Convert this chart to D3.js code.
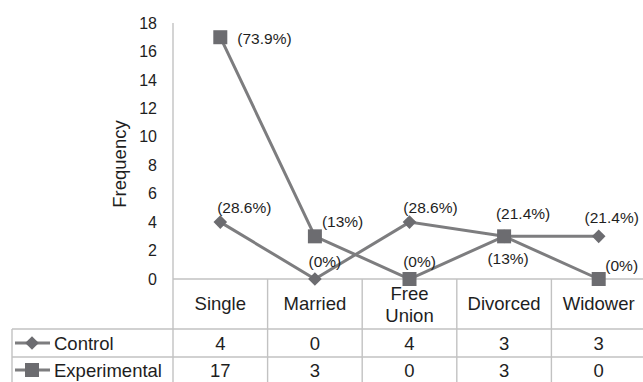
<!DOCTYPE html>
<html>
<head>
<meta charset="utf-8">
<script src="https://cdn.jsdelivr.net/npm/d3@7"></script>
<style>
  html, body { margin: 0; padding: 0; background: #fff; }
  svg { display: block; font-family: "Liberation Sans", Arial, Helvetica, sans-serif; }
</style>
</head>
<body>
<svg id="chart" width="643" height="382"></svg>
<script>
// Marital status by group
const categories = ["Single", "Married", "Free Union", "Divorced", "Widower"];
const controlValues = [4, 0, 4, 3, 3];
const experimentalValues = [17, 3, 0, 3, 0];
const controlPct = ["(28.6%)", "(0%)", "(28.6%)", "(21.4%)", "(21.4%)"];
const experimentalPct = ["(73.9%)", "(13%)", "(0%)", "(13%)", "(0%)"];
const yTicks = [0, 2, 4, 6, 8, 10, 12, 14, 16, 18];
const seriesNames = ["Control", "Experimental"];

(function draw() {
  const svg = d3.select("#chart");
  const gridColor = "#c2c2c2";
  const lineColor = "#7d7d7f";
  const markColor = "#6c6c70";
  const textColor = "#1e1e1e";

  const plotLeft = 173, plotRight = 646, plotTop = 23, base = 279;
  const headerBottom = 329, row1Bottom = 357, tableBottom = 382, legendLeft = 12;
  const tableFont = 18.5, pctFont = 15.5, tickFont = 16;

  const x = d3.scaleBand().domain(categories).range([plotLeft, plotRight]);
  const y = d3.scaleLinear().domain([0, 18]).range([base, plotTop]);
  const cx = c => x(c) + x.bandwidth() / 2;

  // grid: value axis, baseline and data table
  const grid = svg.append("g").attr("stroke", gridColor).attr("stroke-width", 1.4);
  grid.append("line").attr("x1", plotLeft).attr("x2", plotLeft).attr("y1", y(18)).attr("y2", tableBottom);
  grid.append("line").attr("x1", plotLeft).attr("x2", 643).attr("y1", base).attr("y2", base);
  [headerBottom, row1Bottom].forEach(v =>
    grid.append("line").attr("x1", legendLeft).attr("x2", 643).attr("y1", v).attr("y2", v));
  grid.append("line").attr("x1", legendLeft).attr("x2", legendLeft).attr("y1", headerBottom).attr("y2", tableBottom);
  categories.slice(1).forEach(c =>
    grid.append("line").attr("x1", x(c)).attr("x2", x(c)).attr("y1", base).attr("y2", tableBottom));

  // y axis ticks
  const yAxis = d3.axisLeft(y).tickValues(yTicks).tickSize(0).tickPadding(16);
  const ya = svg.append("g").attr("transform", `translate(${plotLeft},0)`).call(yAxis);
  ya.select(".domain").remove();
  ya.selectAll("text").attr("font-size", tickFont).attr("fill", textColor)
    .attr("font-family", "Liberation Sans, Arial, sans-serif");

  svg.append("text")
    .attr("transform", `translate(126,164) rotate(-90)`)
    .attr("text-anchor", "middle").attr("font-size", tableFont).attr("fill", textColor)
    .text("Frequency");

  // category header row
  categories.forEach(c => {
    const words = c.split(" ");
    const t = svg.append("text").attr("text-anchor", "middle").attr("font-size", tableFont).attr("fill", textColor);
    if (words.length === 1) {
      t.append("tspan").attr("x", cx(c)).attr("y", 310).text(c);
    } else {
      words.forEach((w, i) => t.append("tspan").attr("x", cx(c)).attr("y", 300 + i * 22).text(w));
    }
  });

  // series lines and markers
  const line = d3.line().x((d, i) => cx(categories[i])).y(d => y(d));
  const dHalf = 6.8;
  const diamondPath = `M0,${-dHalf}L${dHalf},0L0,${dHalf}L${-dHalf},0Z`;

  svg.append("path").datum(controlValues).attr("d", line)
    .attr("fill", "none").attr("stroke", lineColor).attr("stroke-width", 3);
  svg.append("path").datum(experimentalValues).attr("d", line)
    .attr("fill", "none").attr("stroke", lineColor).attr("stroke-width", 3);

  svg.selectAll(".ctl").data(controlValues).enter().append("path")
    .attr("class", "ctl")
    .attr("d", diamondPath)
    .attr("transform", (d, i) => `translate(${cx(categories[i])},${y(d)})`)
    .attr("fill", markColor);

  const sq = 14;
  svg.selectAll(".exp").data(experimentalValues).enter().append("rect")
    .attr("class", "exp")
    .attr("x", (d, i) => cx(categories[i]) - sq / 2)
    .attr("y", d => y(d) - sq / 2)
    .attr("width", sq).attr("height", sq)
    .attr("fill", markColor);

  // percentage labels
  const label = (px, py, txt, anchor) =>
    svg.append("text").attr("x", px).attr("y", py).attr("text-anchor", anchor || "middle")
      .attr("font-size", pctFont).attr("fill", textColor).text(txt);

  const ctlDx = [24, 10, 21, 19, 13];
  const ctlDy = [-9, -12, -9, -17, -13];
  controlValues.forEach((v, i) => label(cx(categories[i]) + ctlDx[i], y(v) + ctlDy[i], controlPct[i]));

  const expDx = [17, 7, 10, 4, 23];
  const expDy = [7, -9, -12, 28, -8];
  const expAnchor = ["start", "start", "middle", "middle", "middle"];
  experimentalValues.forEach((v, i) =>
    label(cx(categories[i]) + expDx[i], y(v) + expDy[i], experimentalPct[i], expAnchor[i]));

  // data table rows with legend keys
  const rows = [
    { name: seriesNames[0], values: controlValues, yMid: 343, marker: "diamond" },
    { name: seriesNames[1], values: experimentalValues, yMid: 370, marker: "square" }
  ];
  rows.forEach(r => {
    svg.append("line").attr("x1", 15).attr("x2", 50).attr("y1", r.yMid).attr("y2", r.yMid)
      .attr("stroke", lineColor).attr("stroke-width", 3);
    if (r.marker === "diamond") {
      svg.append("path").attr("d", diamondPath).attr("transform", `translate(32,${r.yMid})`).attr("fill", markColor);
    } else {
      svg.append("rect").attr("x", 32 - sq / 2).attr("y", r.yMid - sq / 2)
        .attr("width", sq).attr("height", sq).attr("fill", markColor);
    }
    svg.append("text").attr("x", 54).attr("y", r.yMid + 6.5).attr("font-size", tableFont)
      .attr("fill", textColor).text(r.name);
    r.values.forEach((v, i) =>
      svg.append("text").attr("x", cx(categories[i])).attr("y", r.yMid + 6.5)
        .attr("text-anchor", "middle").attr("font-size", tableFont).attr("fill", textColor).text(v));
  });
})();
</script>
</body>
</html>
